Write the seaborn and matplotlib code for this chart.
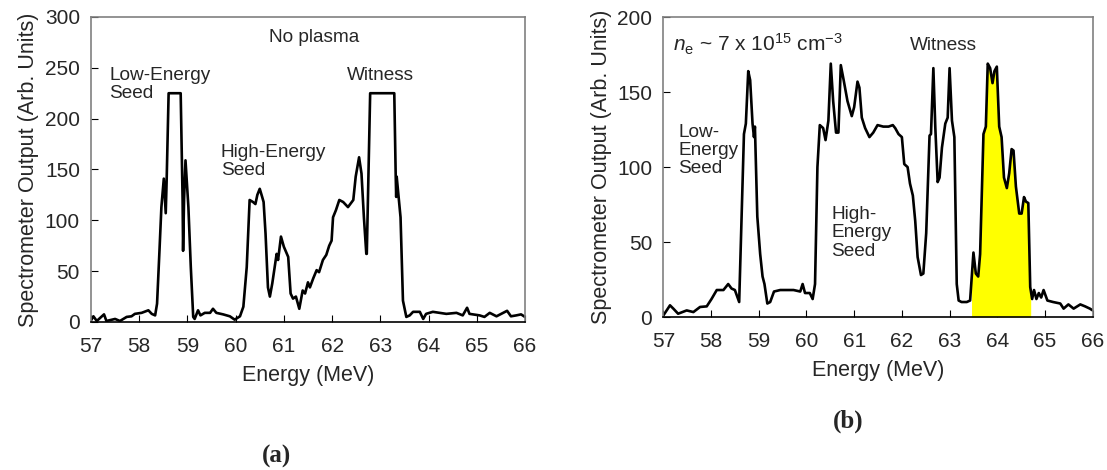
import numpy as np
import pandas as pd
import matplotlib
matplotlib.use("Agg")
import matplotlib.pyplot as plt
import seaborn as sns

# (a) no plasma - energy (MeV) and spectrometer output
energy_a = [57.0, 57.05, 57.12, 57.27, 57.32, 57.5, 57.6, 57.74, 57.84, 57.91, 58.05, 58.19, 58.26, 58.33,
            58.37, 58.42, 58.46, 58.51, 58.55, 58.57, 58.61, 58.86, 58.9, 58.91, 58.93, 58.96, 59.02, 59.07,
            59.12, 59.15, 59.22, 59.27, 59.36, 59.47, 59.53, 59.6, 59.74, 59.88, 59.98, 60.09, 60.16, 60.23,
            60.29, 60.36, 60.41, 60.45, 60.5, 60.55, 60.58, 60.62, 60.67, 60.71, 60.76, 60.85, 60.88, 60.94,
            61.0, 61.09, 61.14, 61.19, 61.25, 61.32, 61.39, 61.44, 61.5, 61.54, 61.61, 61.68, 61.73, 61.81,
            61.88, 61.94, 61.99, 62.02, 62.08, 62.15, 62.23, 62.33, 62.44, 62.49, 62.56, 62.61, 62.66, 62.71,
            62.72, 62.79, 63.29, 63.32, 63.33, 63.34, 63.42, 63.47, 63.54, 63.61, 63.68, 63.82, 63.89, 63.95,
            64.09, 64.23, 64.37, 64.58, 64.71, 64.8, 64.85, 65.06, 65.16, 65.27, 65.41, 65.63, 65.71, 65.82,
            65.92, 66.0]
output_a = [1.6, 5.6, 1, 7.5, 1, 3, 1, 5, 5.6, 8, 9, 11.5, 8, 6.5,
            18, 70, 113, 141, 107, 141, 225, 225, 120, 70, 120, 159, 113, 54,
            5, 3, 11.5, 6.5, 9, 9, 13, 9, 7.5, 5.6, 2.3, 5.6, 15, 54,
            120, 118, 116, 125, 131, 123, 118, 87, 34, 25, 38, 67, 61, 84,
            74, 64, 28, 23, 25, 13, 31, 28, 39, 34, 43, 51, 49, 61,
            66, 75, 80, 103, 110, 120, 118, 113, 120, 143, 162, 146, 103, 67,
            67, 225, 225, 143, 123, 143, 103, 21, 5, 6.5, 10, 10, 3, 8,
            10, 9, 8, 9, 6.5, 14, 8, 6.5, 5, 9, 5.6, 11, 5.6, 6.5,
            7.5, 5]

# (b) with plasma
energy_b = [57.0, 57.07, 57.14, 57.21, 57.31, 57.49, 57.63, 57.77, 57.91, 58.01, 58.12, 58.26, 58.36, 58.43,
            58.5, 58.59, 58.64, 58.69, 58.73, 58.78, 58.82, 58.87, 58.9, 58.92, 58.97, 59.03, 59.08, 59.12,
            59.18, 59.24, 59.32, 59.45, 59.59, 59.73, 59.87, 59.92, 59.97, 60.07, 60.13, 60.18, 60.23, 60.28,
            60.35, 60.4, 60.46, 60.51, 60.56, 60.62, 60.67, 60.72, 60.78, 60.86, 60.95, 61.0, 61.07, 61.11,
            61.16, 61.23, 61.32, 61.4, 61.49, 61.61, 61.72, 61.81, 61.86, 61.93, 62.0, 62.05, 62.12, 62.17,
            62.23, 62.28, 62.33, 62.4, 62.45, 62.51, 62.58, 62.61, 62.66, 62.7, 62.75, 62.79, 62.84, 62.91,
            62.96, 63.0, 63.05, 63.1, 63.15, 63.19, 63.25, 63.36, 63.43, 63.5, 63.55, 63.6, 63.64, 63.71,
            63.76, 63.8, 63.85, 63.9, 63.94, 63.99, 64.04, 64.09, 64.14, 64.2, 64.25, 64.3, 64.34, 64.39,
            64.46, 64.51, 64.56, 64.6, 64.65, 64.69, 64.73, 64.77, 64.82, 64.87, 64.92, 64.97, 65.05, 65.17,
            65.32, 65.39, 65.49, 65.6, 65.74, 65.84, 65.94, 66.0]
output_b = [1, 4.4, 7.8, 5.6, 2.2, 4.4, 3.3, 6.7, 7.1, 12, 18, 18, 22, 19,
            18, 10, 67, 122, 129, 164, 158, 129, 120, 127, 67, 42, 27, 22,
            9, 10, 17, 18, 18, 18, 17, 22, 16, 16, 12, 22, 100, 128,
            126, 118, 131, 169, 144, 123, 123, 168, 158, 144, 134, 140, 157, 153,
            133, 126, 120, 123, 128, 127, 127, 128, 126, 122, 120, 102, 100, 89,
            81, 64, 40, 28, 29, 56, 121, 122, 166, 127, 90, 93, 113, 129,
            133, 166, 131, 120, 22, 11, 10, 10, 11, 43, 29, 27, 42, 122,
            127, 169, 166, 156, 164, 167, 127, 120, 93, 86, 96, 112, 111, 87,
            69, 69, 80, 77, 76, 20, 12, 18, 12, 16, 13, 18, 11, 10,
            9, 5.6, 8.4, 5.6, 8.4, 7.1, 5.6, 4.4]

witness_lo, witness_hi = 63.46, 64.70

sns.set_style("ticks")
plt.rcParams["font.family"] = ["Liberation Sans", "DejaVu Sans"]
plt.rcParams["mathtext.fontset"] = "custom"
plt.rcParams["mathtext.rm"] = "Liberation Sans"
plt.rcParams["mathtext.it"] = "Liberation Sans:italic"

df_a = pd.DataFrame({"Energy": energy_a, "Output": output_a})
df_b = pd.DataFrame({"Energy": energy_b, "Output": output_b})

fig = plt.figure(figsize=(11.07, 4.70), dpi=100)
ax1 = fig.add_axes([0.0822, 0.3149, 0.392, 0.649])
ax2 = fig.add_axes([0.5992, 0.3255, 0.3879, 0.638])

sns.lineplot(data=df_a, x="Energy", y="Output", ax=ax1, color="black", lw=1.9, sort=False)
sns.lineplot(data=df_b, x="Energy", y="Output", ax=ax2, color="black", lw=1.9, sort=False)

# yellow shaded witness region
e_b = np.array(energy_b)
o_b = np.array(output_b)
fill_e = np.concatenate([[witness_lo], e_b[(e_b > witness_lo) & (e_b < witness_hi)], [witness_hi]])
fill_o = np.interp(fill_e, e_b, o_b)
ax2.fill_between(fill_e, 0, fill_o, color="#ffff00", lw=0, zorder=1)

for ax, ymax in [(ax1, 300), (ax2, 200)]:
    ax.set_xlim(57, 66)
    ax.set_ylim(0, ymax)
    ax.set_xticks(range(57, 67))
    ax.set_yticks(range(0, ymax + 1, 50))
    ax.tick_params(axis="both", direction="in", length=5, labelsize=15, color="black")
    ax.tick_params(axis="x", pad=11)
    ax.tick_params(axis="y", pad=8)
    ax.set_xlabel("Energy (MeV)", fontsize=15.5, labelpad=6)
    ax.set_ylabel("Spectrometer Output (Arb. Units)", fontsize=15.5, labelpad=4)
    for s in ["top", "right", "left"]:
        ax.spines[s].set_color("#808080")
        ax.spines[s].set_linewidth(1.2)
    ax.spines["bottom"].set_color("black")
    ax.spines["bottom"].set_linewidth(1.2)

fs = 13.7
ax1.text(61.63, 280, "No plasma", ha="center", va="center", fontsize=fs)
ax1.text(57.38, 251, "Low-Energy\nSeed", ha="left", va="top", fontsize=fs, linespacing=1.1)
ax1.text(59.69, 175, "High-Energy\nSeed", ha="left", va="top", fontsize=fs, linespacing=1.1)
ax1.text(62.3, 251, "Witness", ha="left", va="top", fontsize=fs)

ax2.text(57.2, 182, r"$\mathit{n}_{\rm e}$ ~ 7 x 10$^{15}$ cm$^{-3}$", ha="left", va="center", fontsize=15)
ax2.text(62.16, 181, "Witness", ha="left", va="center", fontsize=fs)
ax2.text(57.32, 129, "Low-\nEnergy\nSeed", ha="left", va="top", fontsize=fs, linespacing=1.1)
ax2.text(60.52, 74, "High-\nEnergy\nSeed", ha="left", va="top", fontsize=fs, linespacing=1.1)

fig.text(0.25, 0.028, "(a)", ha="center", va="center", fontsize=18, fontweight="bold",
         family=["Liberation Serif", "DejaVu Serif"])
fig.text(0.766, 0.104, "(b)", ha="center", va="center", fontsize=18, fontweight="bold",
         family=["Liberation Serif", "DejaVu Serif"])

plt.savefig("out.png", dpi=100)
